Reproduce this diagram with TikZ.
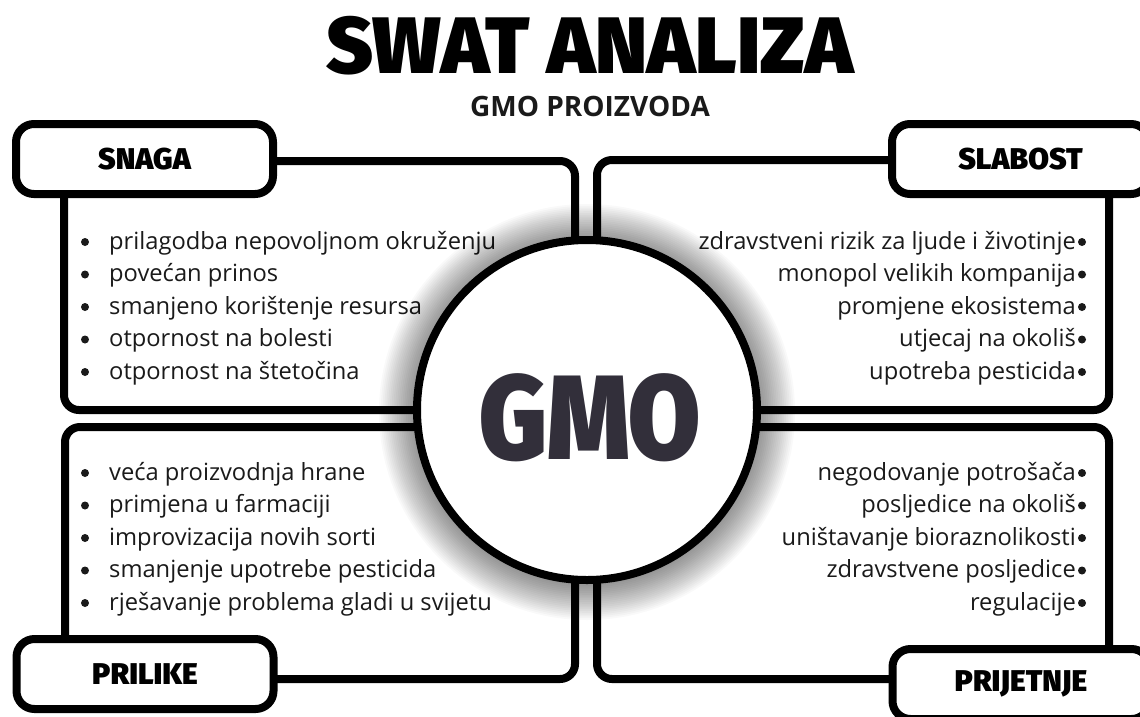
\documentclass[tikz,border=0pt]{standalone}
\usepackage{fontspec}
\setmainfont{Open Sans}
\newfontfamily\heavyfont{Fira Sans}[UprightFont={* Black}]
\definecolor{gmoink}{HTML}{322F3A}
\definecolor{inktext}{HTML}{1A1A1A}
\tikzset{
  quad/.style={draw=black, line width=8pt, rounded corners=15pt},
  labelbox/.style={draw=black, line width=8pt, rounded corners=18pt, fill=white,
    minimum width=257pt, minimum height=70pt, inner sep=0pt,
    font=\heavyfont\fontsize{30}{36}\selectfont},
  item/.style={font=\fontsize{23.7}{28}\selectfont, inner sep=0pt, text=inktext},
  dot/.style={circle, fill=inktext, minimum size=8pt, inner sep=0pt},
}
\begin{document}
\begin{tikzpicture}[x=1pt,y=-1pt]
\useasboundingbox (0,0) rectangle (1140,716);
\clip (0,0) rectangle (1140,716);
\fill[white] (0,0) rectangle (1140,716);

% title
\node[font=\heavyfont\fontsize{80}{90}\selectfont, anchor=base, inner sep=0pt] (title) at (590,73) {SWAT ANALIZA};
\node[font=\bfseries\fontsize{28}{32}\selectfont, anchor=base, inner sep=0pt, text=inktext] (sub) at (590,116) {GMO PROIZVODA};

% quadrants
\draw[quad] (64,161) rectangle (575,410);
\draw[quad] (597,160) rectangle (1109,410);
\draw[quad] (65,427) rectangle (575,679);
\draw[quad] (597,427) rectangle (1109,679);

% labels
\node[labelbox] (snaga) at (144.5,159) {SNAGA};
\node[labelbox] (slabost) at (1020.5,159) {SLABOST};
\node[labelbox] (prilike) at (145,674) {PRILIKE};
\node[labelbox] (prijetnje) at (1021,684) {PRIJETNJE};

% items
\foreach \t [count=\i] in {prilagodba nepovoljnom okruženju, povećan prinos, smanjeno korištenje resursa, otpornost na bolesti, otpornost na štetočina}{
  \node[dot] (sb\i) at (85,{242+32.5*(\i-1)}) {};
  \node[item, anchor=base west] (s\i) at (109,{249+32.5*(\i-1)}) {\t};
}
\foreach \t [count=\i] in {zdravstveni rizik za ljude i životinje, monopol velikih kompanija, promjene ekosistema, utjecaj na okoliš, upotreba pesticida}{
  \node[dot] (wb\i) at (1082,{242+32.5*(\i-1)}) {};
  \node[item, anchor=base east] (w\i) at (1076,{249+32.5*(\i-1)}) {\t};
}
\foreach \t [count=\i] in {veća proizvodnja hrane, primjena u farmaciji, improvizacija novih sorti, smanjenje upotrebe pesticida, rješavanje problema gladi u svijetu}{
  \node[dot] (ob\i) at (85,{473+32.5*(\i-1)}) {};
  \node[item, anchor=base west] (o\i) at (109,{480+32.5*(\i-1)}) {\t};
}
\foreach \t [count=\i] in {negodovanje potrošača, posljedice na okoliš, uništavanje bioraznolikosti, zdravstvene posljedice, regulacije}{
  \node[dot] (tb\i) at (1082,{473+32.5*(\i-1)}) {};
  \node[item, anchor=base east] (t\i) at (1076,{480+32.5*(\i-1)}) {\t};
}

% circle shadow
\foreach \k in {1,...,20}{
  \fill[black, opacity=0.022] (587,412) circle ({172+\k*1.8});
}
\node[circle, draw=black, line width=8pt, fill=white, minimum size=340pt, inner sep=0pt] (circ) at (587,410) {};
\node[font=\heavyfont\fontsize{120}{130}\selectfont, text=gmoink, inner sep=0pt, xscale=0.87] (gmo) at (590,418) {GMO};
\end{tikzpicture}
\end{document}
